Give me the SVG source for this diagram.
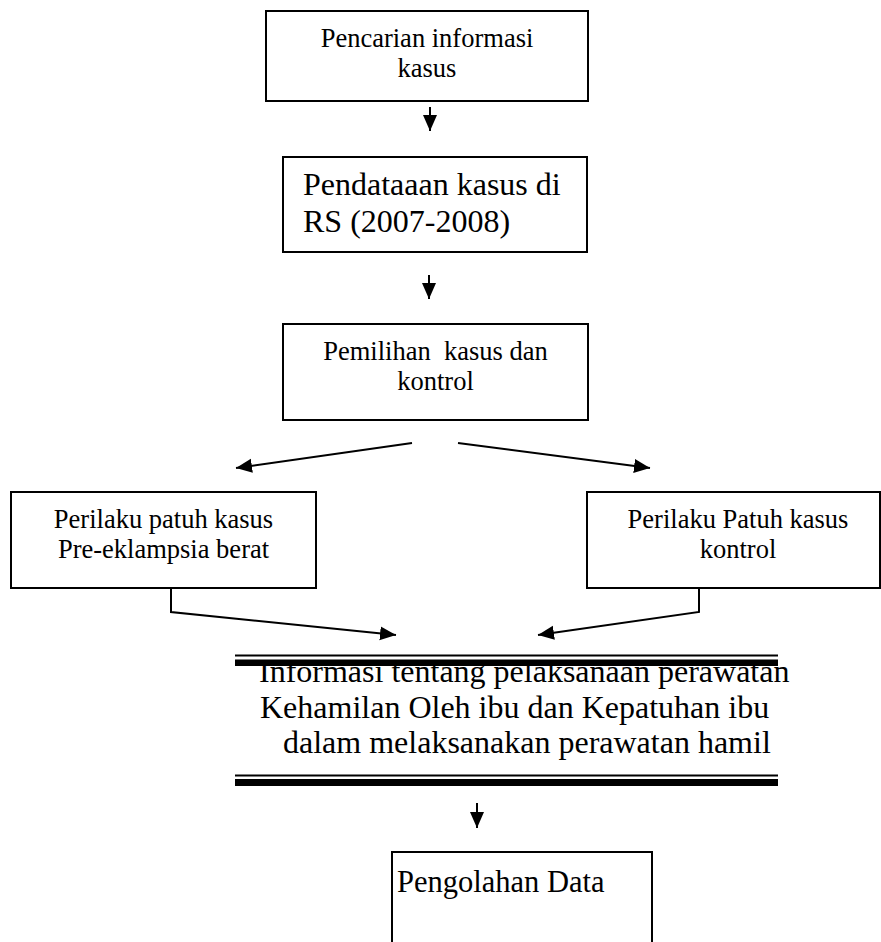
<svg xmlns="http://www.w3.org/2000/svg" width="881" height="942" viewBox="0 0 881 942">
<style>
.box{fill:#fff;stroke:#000;stroke-width:2}
.t{font-family:"Liberation Serif","Times New Roman",serif;fill:#000}
.s{font-size:26.5px}
.b{font-size:32px}
.c{text-anchor:middle}
.ln{fill:none;stroke:#000;stroke-width:2}
</style>
<defs>
<marker id="ah" markerUnits="userSpaceOnUse" markerWidth="17" markerHeight="15" refX="16" refY="7" orient="auto">
<path d="M0,0 L16,7 L0,14 z" fill="#000"/>
</marker>
</defs>
<g id="n1">
<rect class="box" x="266" y="11" width="322" height="90"/>
<text class="t s c" x="427" y="47">Pencarian informasi</text>
<text class="t s c" x="427" y="77">kasus</text>
</g>
<g id="n2">
<rect class="box" x="283" y="157" width="304" height="95"/>
<text class="t b" x="303" y="195">Pendataaan kasus di</text>
<text class="t b" x="303" y="232">RS (2007-2008)</text>
</g>
<g id="n3">
<rect class="box" x="283" y="324" width="305" height="96"/>
<text class="t s c" x="435.5" y="360" xml:space="preserve">Pemilihan  kasus dan</text>
<text class="t s c" x="435.5" y="390">kontrol</text>
</g>
<g id="n4">
<rect class="box" x="11" y="492" width="305" height="96"/>
<text class="t s c" x="163.5" y="528">Perilaku patuh kasus</text>
<text class="t s c" x="163.5" y="558">Pre-eklampsia berat</text>
</g>
<g id="n5">
<rect class="box" x="587" y="492" width="293" height="96"/>
<text class="t s c" x="738" y="528">Perilaku Patuh kasus</text>
<text class="t s c" x="738" y="558">kontrol</text>
</g>
<g id="n6">
<text class="t b" x="259" y="682">Informasi tentang pelaksanaan perawatan</text>
<text class="t b" x="260" y="718">Kehamilan Oleh ibu dan Kepatuhan ibu</text>
<text class="t b" x="283" y="753">dalam melaksanakan perawatan hamil</text>
<rect x="235" y="654.5" width="543" height="2" fill="#000"/>
<rect x="235" y="659.5" width="543" height="6.5" fill="#000"/>
<rect x="235" y="774.5" width="543" height="2" fill="#000"/>
<rect x="235" y="779" width="543" height="7" fill="#000"/>
</g>
<g id="n7">
<path class="ln" d="M392,942 V852 H652 V942"/>
<text class="t b" x="397" y="892" style="font-size:30.5px">Pengolahan Data</text>
</g>
<g id="connectors">
<line class="ln" x1="430" y1="107" x2="430" y2="131" marker-end="url(#ah)"/>
<line class="ln" x1="429" y1="275" x2="429" y2="299" marker-end="url(#ah)"/>
<line class="ln" x1="412" y1="443" x2="236" y2="468" marker-end="url(#ah)"/>
<line class="ln" x1="458" y1="443" x2="650" y2="468" marker-end="url(#ah)"/>
<polyline class="ln" points="171,588 171,612 396,635" marker-end="url(#ah)"/>
<polyline class="ln" points="699,588 699,612 538,635" marker-end="url(#ah)"/>
<line class="ln" x1="477" y1="803" x2="477" y2="828" marker-end="url(#ah)"/>
</g>
</svg>
